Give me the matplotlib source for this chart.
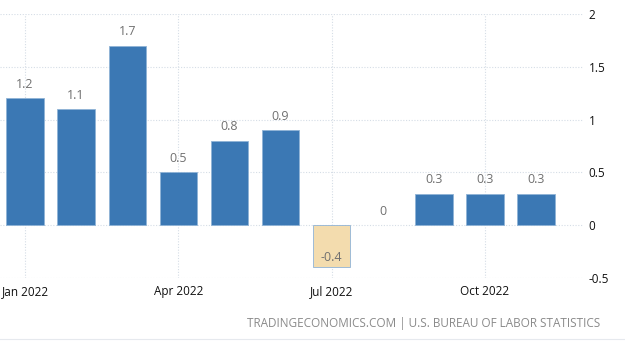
import matplotlib
matplotlib.use("Agg")
from matplotlib import pyplot as plt

months = ["Jan", "Feb", "Mar", "Apr", "May", "Jun", "Jul", "Aug", "Sep", "Oct", "Nov"]
values = [1.2, 1.1, 1.7, 0.5, 0.8, 0.9, -0.4, 0.0, 0.3, 0.3, 0.3]
tick_pos = [0, 3, 6, 9]
tick_labels = ["Jan 2022", "Apr 2022", "Jul 2022", "Oct 2022"]
y_ticks = [-0.5, 0, 0.5, 1, 1.5, 2]

plt.rcParams['font.family'] = ['Open Sans', 'DejaVu Sans']

fig = plt.figure(figsize=(6.25, 3.54), dpi=100)
ax = fig.add_axes([0.0, 0.2147, 0.933, 0.7458])

x = list(range(len(values)))
colors = ["#3b78b4" if v >= 0 else "#f3dcae" for v in values]
widths = [0.6 if v != 0 else 0 for v in values]
ax.bar(x, values, width=0.73, color=colors, edgecolor="#8fb3d6", linewidth=widths, zorder=2)

for xi, v in zip(x, values):
    label = "0" if v == 0 else f"{v:g}"
    if v < 0:
        # negative values get their label inside the bar, near its bottom
        ax.text(xi, v + 0.09, label, ha="center", va="center", fontsize=9, color="#707070", zorder=3)
    else:
        ax.text(xi, v + 0.07, label, ha="center", va="bottom", fontsize=9, color="#707070", zorder=3)

ax.set_xlim(-0.49, 10.92)
ax.set_ylim(-0.5, 2)
ax.set_yticks(y_ticks)
ax.set_yticklabels([f"{t:g}" for t in y_ticks])
ax.yaxis.tick_right()
ax.set_xticks(tick_pos)
ax.set_xticklabels(tick_labels)
ax.tick_params(axis="both", length=0, labelsize=8.5, colors="#111111")
ax.tick_params(axis="y", pad=4)
ax.tick_params(axis="x", pad=5)

ax.grid(True, color="#d5dde6", linestyle=(0, (1, 1.5)), linewidth=0.8, zorder=0)
for s in ax.spines.values():
    s.set_visible(False)

fig.text(0.96, 0.085, "TRADINGECONOMICS.COM | U.S. BUREAU OF LABOR STATISTICS",
         ha="right", va="center", fontsize=8.5, color="#8a8a8a")
fig.add_artist(plt.Line2D([0.0, 1.0], [0.042, 0.042], color="#e6e9ee", linewidth=0.8))

fig.savefig("out.png", dpi=100)
